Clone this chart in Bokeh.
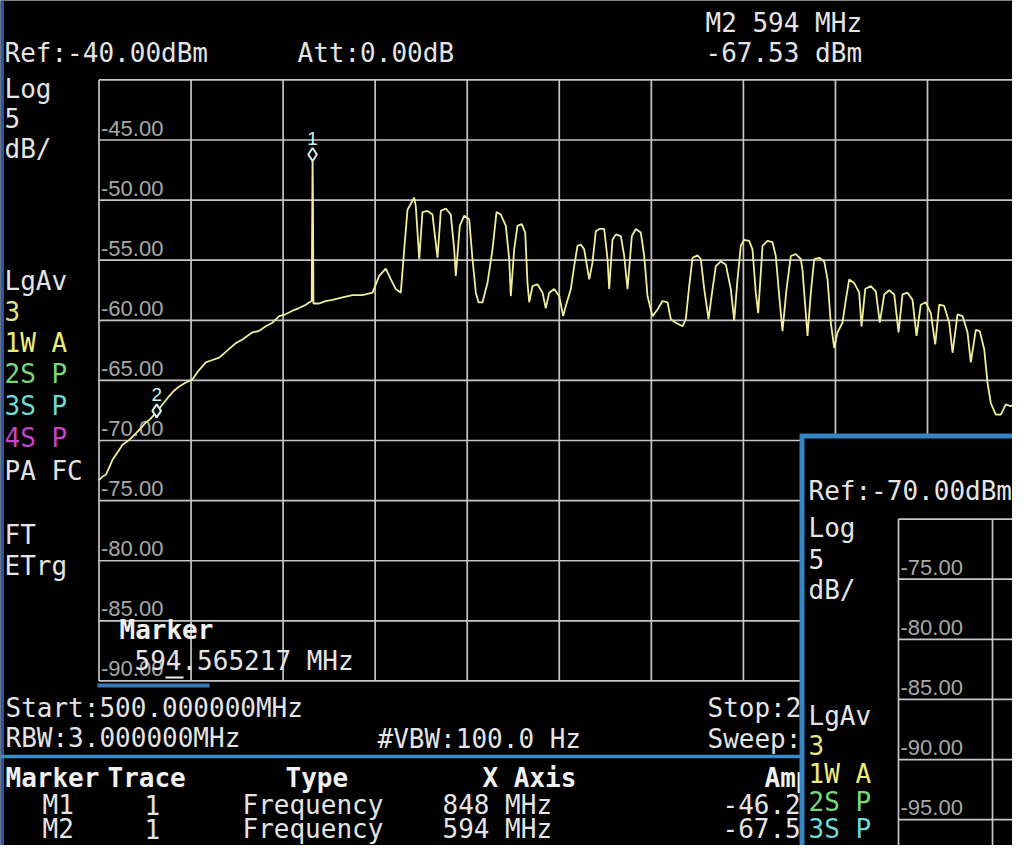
from bokeh.plotting import figure
from bokeh.models import Range1d, ColumnDataSource
from bokeh.core.properties import value
from bokeh.embed import file_html
from bokeh.resources import INLINE

# ---------------- data ----------------
freq_ticks_mhz = [500, 650, 800, 950, 1100, 1250, 1400, 1550, 1700, 1850, 2000]
level_ticks_dbm = [-40, -45, -50, -55, -60, -65, -70, -75, -80, -85, -90]

rise_freq = [500, 505.7, 511.1, 517.1, 522.0, 530.1, 538.3, 548.1, 560.0, 567.6, 576.3, 583.9,
             592.6, 603.5, 614.4, 621.4, 630.7, 640.9, 652.4, 662.1, 674.0, 684.9, 695.9, 709.4,
             722.9, 733.8, 750.1, 759.9, 771.8, 782.7, 793.6, 803.9, 815.3, 825.1, 837.0, 843.0]
rise_dbm = [-73.3, -73.0, -72.85, -72.2, -71.6, -71.0, -70.35, -70.0, -69.4, -69.0, -68.5, -68.2,
            -67.7, -67.0, -66.3, -65.9, -65.5, -65.2, -64.9, -64.2, -63.5, -63.3, -63.1, -62.5,
            -61.9, -61.6, -61.0, -60.9, -60.5, -60.2, -59.65, -59.5, -59.2, -59.0, -58.7, -58.5]

spike_freq = [846.6, 847.3, 848.0, 848.7, 849.4]
spike_dbm = [-58.4, -52.0, -46.2, -50.5, -58.6]

band_freq = [851.1, 858.8, 869.1, 880.5, 896.8, 913.1, 929.4, 945.7, 956.6, 967.3,
             975.5, 983.6, 991.8, 997.3, 1002.7, 1013.6, 1016.2, 1021.8, 1027.1, 1035.3,
             1043.4, 1051.6, 1057.0, 1065.1, 1073.2, 1078.8, 1081.4, 1087.9, 1095.1, 1103.2,
             1108.6, 1114.0, 1118.4, 1124.9, 1133.0, 1141.2, 1147.7, 1154.7, 1162.9, 1168.4,
             1171.0, 1176.5, 1181.9, 1188.9, 1194.5, 1198.2, 1201.0, 1206.4, 1214.5, 1222.7,
             1228.0, 1233.6, 1241.7, 1249.9, 1256.4, 1260.6, 1268.8, 1274.3, 1279.7, 1285.1,
             1290.6, 1298.8, 1304.1, 1309.5, 1315.1, 1323.2, 1328.6, 1331.3, 1336.7, 1342.1,
             1350.3, 1355.8, 1361.2, 1368.2, 1374.7, 1382.8, 1388.4, 1393.8, 1401.9, 1410.1,
             1418.2, 1426.4, 1431.7, 1439.9, 1450.8, 1456.2, 1461.7, 1467.1, 1475.2, 1480.6,
             1486.2, 1493.2, 1499.7, 1505.1, 1513.2, 1521.3, 1529.5, 1535.0, 1540.4, 1545.8,
             1551.3, 1559.5, 1564.8, 1570.2, 1574.1, 1581.2, 1589.3, 1597.4, 1602.8, 1608.4,
             1613.7, 1620.3, 1627.3, 1635.4, 1643.6, 1646.3, 1654.5, 1659.9, 1665.4, 1673.5,
             1681.7, 1687.1, 1692.4, 1698.0, 1703.4, 1711.5, 1716.9, 1722.4, 1730.6, 1738.7,
             1742.5, 1748.5, 1757.6, 1765.8, 1772.3, 1779.5, 1787.6, 1795.8, 1802.8, 1809.3,
             1817.4, 1825.6, 1832.1, 1839.1, 1847.2, 1855.4, 1862.6, 1869.1, 1877.2, 1885.4,
             1890.8, 1898.9, 1907.0, 1915.2, 1920.6, 1928.7, 1935.2, 1942.4, 1947.8, 1953.2,
             1961.3, 1969.5, 1977.6, 1985.7, 1993.9, 2001.6]
band_dbm = [-58.6, -58.6, -58.4, -58.3, -58.1, -57.9, -57.9, -57.7, -56.3, -55.7,
            -56.6, -57.4, -57.7, -54.1, -50.8, -49.8, -50.5, -54.9, -51.0, -50.9,
            -51.2, -54.8, -50.9, -50.7, -51.2, -54.1, -56.3, -52.15, -51.3, -51.6,
            -54.9, -57.7, -58.5, -58.5, -56.9, -54.1, -51.0, -51.2, -52.15, -54.9,
            -58.0, -54.1, -52.15, -52.0, -52.7, -56.9, -58.5, -57.15, -57.0, -57.7,
            -59.0, -57.7, -57.4, -58.0, -59.65, -58.8, -57.4, -55.5, -53.8, -53.7,
            -54.1, -56.6, -55.2, -52.6, -52.4, -52.4, -54.9, -57.4, -53.3, -52.85,
            -53.0, -54.65, -57.4, -53.0, -52.4, -52.7, -54.65, -58.0, -59.65, -59.1,
            -58.4, -58.5, -59.9, -60.2, -60.5, -59.9, -57.15, -54.8, -54.6, -54.9,
            -57.4, -59.9, -57.4, -55.5, -55.1, -55.35, -57.4, -60.05, -56.6, -53.8,
            -53.3, -53.4, -54.1, -57.7, -59.4, -53.8, -53.4, -53.5, -54.65, -58.0,
            -60.9, -57.4, -54.65, -54.5, -54.9, -55.8, -61.3, -57.7, -54.9, -54.8,
            -55.1, -56.6, -60.2, -62.3, -61.0, -60.2, -58.3, -56.6, -56.9, -57.7,
            -60.5, -57.4, -57.15, -57.6, -60.2, -57.85, -57.5, -57.85, -61.0, -57.85,
            -57.7, -58.3, -61.3, -58.7, -58.5, -59.4, -62.0, -58.7, -58.8, -60.2,
            -62.7, -59.5, -59.65, -61.0, -63.5, -60.8, -60.9, -62.4, -65.2, -66.9,
            -67.85, -67.85, -67.0, -67.15, -66.9, -66.75]

marker_ids = ["1", "2"]
marker_freq = [848, 594]
marker_dbm = [-46.21, -67.53]

inset_freq_ticks = [500, 650, 800]
inset_level_ticks = [-70, -75, -80, -85, -90, -95, -100]

assert len(rise_freq) == len(rise_dbm)
assert len(spike_freq) == len(spike_dbm)
assert len(band_freq) == len(band_dbm)
trace_freq = rise_freq + spike_freq + band_freq
trace_dbm = rise_dbm + spike_dbm + band_dbm

# ---------------- figure ----------------
W, H = 1012, 845
X0, X1 = 339.5, 1988.5
Y0, Y1 = -103.69, -33.395

p = figure(width=W, height=H, x_range=Range1d(X0, X1), y_range=Range1d(Y0, Y1),
           output_backend="svg", toolbar_location=None, title=None,
           x_axis_location=None, y_axis_location=None, min_border=0,
           background_fill_color="black", border_fill_color="black",
           outline_line_color=None)
p.xgrid.visible = False
p.ygrid.visible = False
p.extra_x_ranges = {"inset_x": Range1d(-932.9, 681.9)}
p.extra_y_ranges = {"inset_y": Range1d(-97.15, -26.86)}


def X(px):  # reference pixel -> data x
    return X0 + (px - 8) * (X1 - X0) / W


def Y(py):  # reference pixel -> data y
    return Y1 - (py - 8) * (Y1 - Y0) / H


MONO = value("DejaVu Sans Mono")
NARROW = value("Liberation Sans")
WHITE = "#e4e4e4"
GRID = "#c6c6c6"
TICK = "#a8a8a8"
TXT_SHIFT = -10   # baseline correction for 26px text
LAB_SHIFT = -12   # for 22px grid labels

# left blue edge
p.quad(left=[X(8)], right=[X(11.5)], bottom=[Y(853)], top=[Y(8)],
       fill_color="#2a56a8", line_color=None)

# main grid
n = len(freq_ticks_mhz)
p.segment(x0=freq_ticks_mhz, x1=freq_ticks_mhz,
          y0=[level_ticks_dbm[0]] * n, y1=[level_ticks_dbm[-1]] * n,
          line_color=GRID, line_width=1.7)
m = len(level_ticks_dbm)
p.segment(x0=[freq_ticks_mhz[0]] * m, x1=[freq_ticks_mhz[-1]] * m,
          y0=level_ticks_dbm, y1=level_ticks_dbm,
          line_color=GRID, line_width=1.7)

# grid labels
lab_src = ColumnDataSource(dict(
    x=[freq_ticks_mhz[0]] * (m - 1), y=level_ticks_dbm[1:],
    text=["%.2f" % v for v in level_ticks_dbm[1:]]))
p.text(x="x", y="y", text="text", source=lab_src, text_font=NARROW,
       text_font_size="22px", text_color=TICK, text_baseline="alphabetic",
       text_align="left", x_offset=2, y_offset=LAB_SHIFT)

# trace
p.line(trace_freq, trace_dbm, line_color="#eeee9c", line_width=1.8)

# markers
p.scatter(marker_freq, marker_dbm, marker="diamond", size=13,
          fill_color="black", line_color="#cdf2f2", line_width=2)
p.text(x=marker_freq, y=marker_dbm, text=marker_ids, text_font=NARROW,
       text_font_size="19px", text_color="#cdf2f2", text_align="center",
       text_baseline="alphabetic", y_offset=-16)

# decorative strokes
p.segment(x0=[X(105)], x1=[X(217)], y0=[Y(693)], y1=[Y(693)],
          line_color="#3a7ab8", line_width=4)
p.segment(x0=[X(173)], x1=[X(191)], y0=[Y(685)], y1=[Y(685)],
          line_color="#f0f0f0", line_width=2)
p.segment(x0=[X(8)], x1=[X(812)], y0=[Y(764)], y1=[Y(764)],
          line_color="#3c8cc8", line_width=3.5)

# texts (x, baseline y in reference pixels)
normal_texts = [
    ("Ref:-40.00dBm", 12, 70, WHITE),
    ("Att:0.00dB", 305, 70, WHITE),
    ("M2 594 MHz", 713, 40, WHITE),
    ("-67.53 dBm", 713, 70, WHITE),
    ("Log", 12, 106, WHITE), ("5", 12, 135, WHITE), ("dB/", 12, 166, WHITE),
    ("LgAv", 12, 298, WHITE), ("3", 12, 328, "#e2e28a"), ("1W A", 12, 360, "#ecec78"),
    ("2S P", 12, 391, "#78d878"), ("3S P", 12, 423, "#70d8d8"), ("4S P", 12, 455, "#c444cc"),
    ("PA FC", 12, 488, WHITE), ("FT", 12, 552, WHITE), ("ETrg", 12, 583, WHITE),
    ("594.565217 MHz", 142, 678, WHITE),
    ("Start:500.000000MHz", 13, 725, WHITE), ("Stop:2000.000000MHz", 715, 725, WHITE),
    ("RBW:3.000000MHz", 13, 755, WHITE), ("#VBW:100.0 Hz", 385, 756, WHITE),
    ("Sweep:", 715, 756, WHITE),
    ("M1", 50, 822, WHITE), ("1", 152, 822, WHITE), ("Frequency", 250, 822, WHITE),
    ("848 MHz", 450, 822, WHITE), ("-46.21 dBm", 730, 822, WHITE),
    ("M2", 50, 846, WHITE), ("1", 152, 846, WHITE), ("Frequency", 250, 846, WHITE),
    ("594 MHz", 450, 846, WHITE), ("-67.53 dBm", 730, 846, WHITE),
]
src = ColumnDataSource(dict(
    x=[X(t[1]) for t in normal_texts], y=[Y(t[2]) for t in normal_texts],
    text=[t[0] for t in normal_texts], color=[t[3] for t in normal_texts]))
p.text(x="x", y="y", text="text", text_color="color", source=src, text_font=MONO,
       text_font_size="26px", text_baseline="alphabetic", text_align="left",
       y_offset=TXT_SHIFT)

bold_texts = [("Marker", 127, 647), ("Marker", 13, 795), ("Trace", 115, 795),
              ("Type", 293, 795), ("X Axis", 490, 795), ("Amplitude", 772, 795)]
bsrc = ColumnDataSource(dict(
    x=[X(t[1]) for t in bold_texts], y=[Y(t[2]) for t in bold_texts],
    text=[t[0] for t in bold_texts]))
p.text(x="x", y="y", text="text", source=bsrc, text_font=MONO, text_font_style="bold",
       text_font_size="26px", text_color="#f0f0f0", text_baseline="alphabetic",
       text_align="left", y_offset=TXT_SHIFT)

# ---------------- inset window ----------------
p.quad(left=[X(807)], right=[X(1030)], bottom=[Y(870)], top=[Y(441)],
       fill_color="#3584c4", line_color=None)
p.quad(left=[X(812)], right=[X(1030)], bottom=[Y(870)], top=[Y(446)],
       fill_color="black", line_color=None)

k = len(inset_freq_ticks)
p.segment(x0=inset_freq_ticks, x1=inset_freq_ticks,
          y0=[inset_level_ticks[0]] * k, y1=[inset_level_ticks[-1]] * k,
          line_color=GRID, line_width=1.7, x_range_name="inset_x", y_range_name="inset_y")
j = len(inset_level_ticks)
p.segment(x0=[inset_freq_ticks[0]] * j, x1=[2000] * j,
          y0=inset_level_ticks, y1=inset_level_ticks,
          line_color=GRID, line_width=1.7, x_range_name="inset_x", y_range_name="inset_y")
ilab = ColumnDataSource(dict(
    x=[inset_freq_ticks[0]] * (j - 2), y=inset_level_ticks[1:-1],
    text=["%.2f" % v for v in inset_level_ticks[1:-1]]))
p.text(x="x", y="y", text="text", source=ilab, text_font=NARROW,
       text_font_size="22px", text_color=TICK, text_baseline="alphabetic",
       text_align="left", x_offset=2, y_offset=LAB_SHIFT,
       x_range_name="inset_x", y_range_name="inset_y")

inset_texts = [
    ("Ref:-70.00dBm", 816, 508, WHITE), ("Log", 816, 545, WHITE), ("5", 816, 576, WHITE),
    ("dB/", 816, 607, WHITE), ("LgAv", 816, 733, WHITE), ("3", 816, 762, "#e2e28a"),
    ("1W A", 816, 791, "#ecec78"), ("2S P", 816, 819, "#78d878"), ("3S P", 816, 846, "#70d8d8"),
]
isrc = ColumnDataSource(dict(
    x=[X(t[1]) for t in inset_texts], y=[Y(t[2]) for t in inset_texts],
    text=[t[0] for t in inset_texts], color=[t[3] for t in inset_texts]))
p.text(x="x", y="y", text="text", text_color="color", source=isrc, text_font=MONO,
       text_font_size="26px", text_baseline="alphabetic", text_align="left",
       y_offset=TXT_SHIFT)

open("out.html", "w").write(file_html(p, INLINE))
